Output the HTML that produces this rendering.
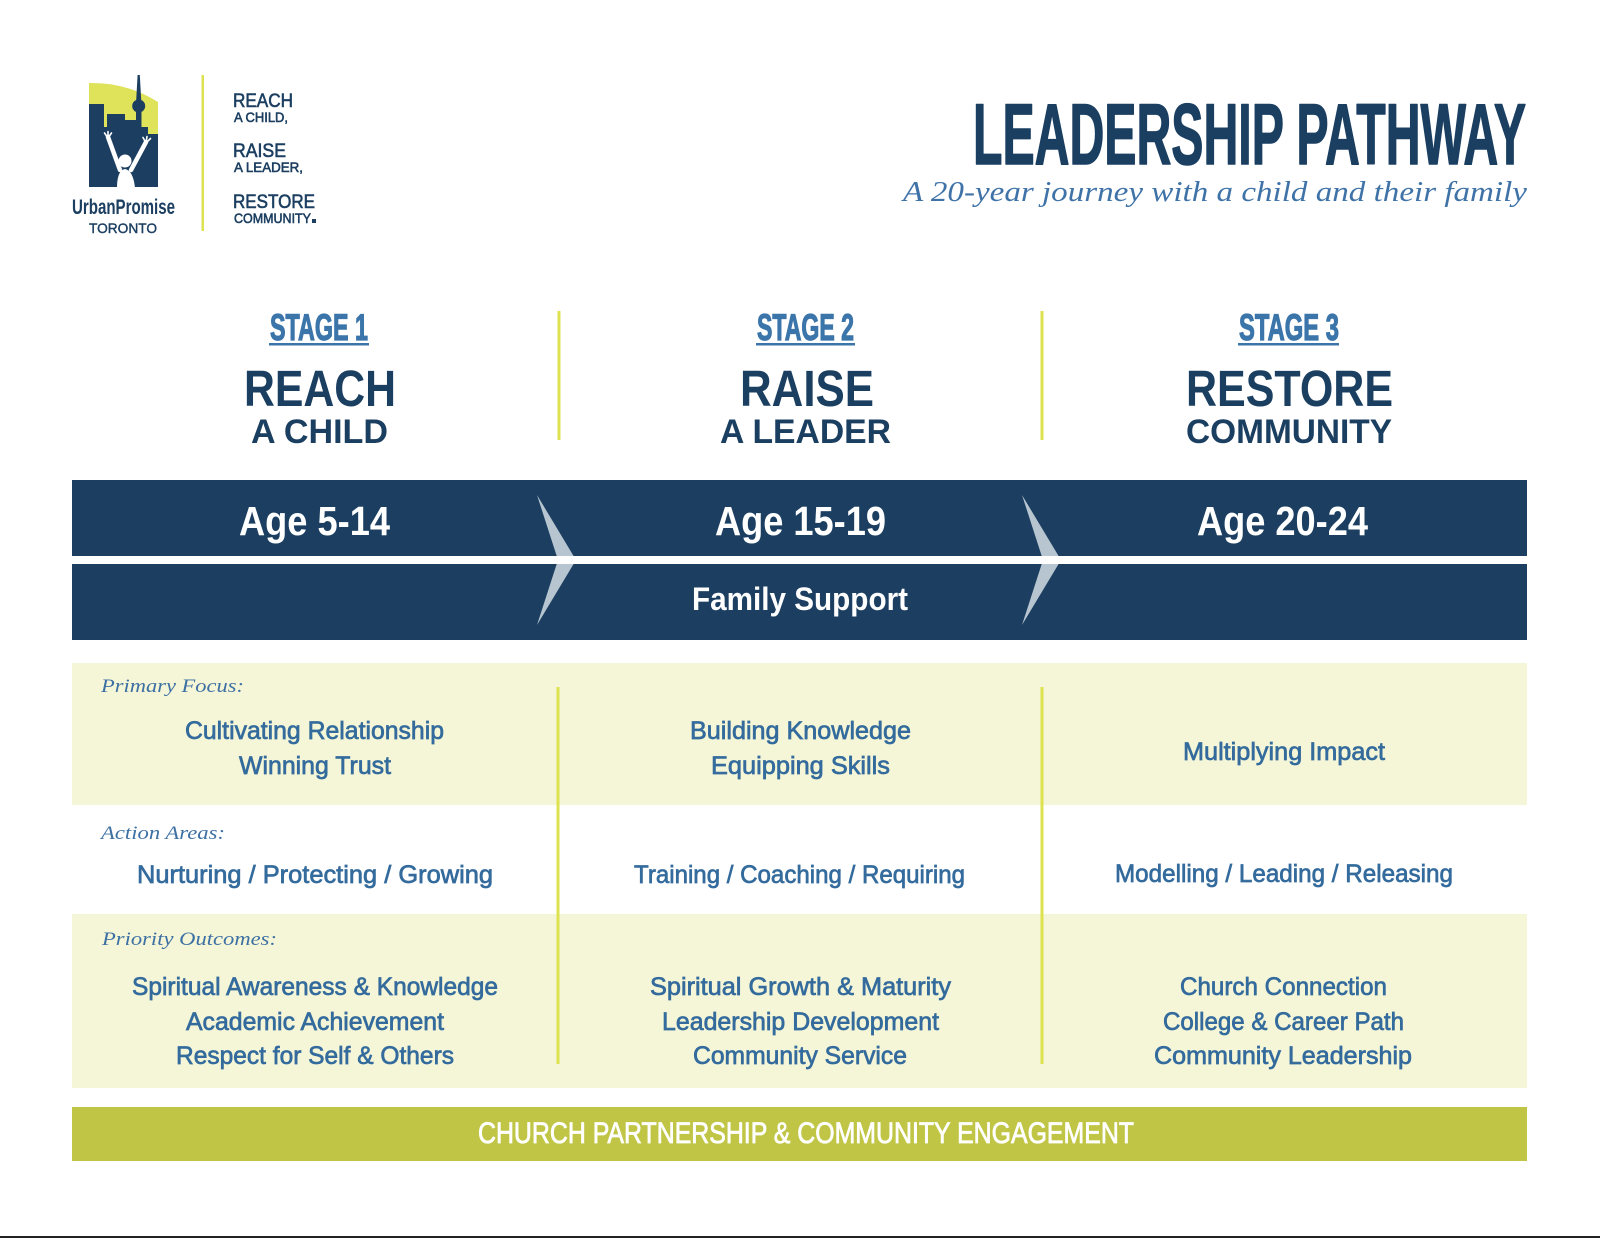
<!DOCTYPE html>
<html>
<head>
<meta charset="utf-8">
<style>
  html,body{margin:0;padding:0;background:#fff;}
  svg{display:block;}
  .sans{font-family:"Liberation Sans",Arial,sans-serif;}
  .serif{font-family:"Liberation Serif","Times New Roman",serif;}
</style>
</head>
<body>
<svg width="1600" height="1238" viewBox="0 0 1600 1238" xmlns="http://www.w3.org/2000/svg">
  <rect x="0" y="0" width="1600" height="1238" fill="#ffffff"/>

  <!-- ===== LOGO ===== -->
  <path d="M89,83 Q126,82 158,102 L158,187 L89,187 Z" fill="#dfe35a"/>
  <g fill="#1c3f61">
    <rect x="89" y="104" width="15" height="83"/>
    <rect x="103" y="127" width="5" height="60"/>
    <rect x="107" y="114" width="18" height="73"/>
    <rect x="124" y="120" width="13" height="67"/>
    <rect x="136" y="108" width="5.5" height="79"/>
    <circle cx="138.7" cy="106" r="6.5"/>
    <path d="M137.6,75 L139.8,75 L141.2,100 L136.2,100 Z"/>
    <rect x="141" y="127" width="7" height="60"/>
    <rect x="147" y="134" width="11" height="53"/>
  </g>
  <g fill="#ffffff" stroke="#ffffff">
    <circle cx="125" cy="161" r="6.5" stroke="none"/>
    <path d="M117,188 C117,178 119,170 125,169 C131,170 134,178 135,188 Z" stroke="none"/>
    <line x1="108" y1="137" x2="120" y2="170" stroke-width="4.5" stroke-linecap="round"/>
    <line x1="146" y1="142" x2="131" y2="170" stroke-width="4.5" stroke-linecap="round"/>
    <line x1="108" y1="138" x2="104.5" y2="133" stroke-width="1.6" stroke-linecap="round"/>
    <line x1="108" y1="138" x2="108" y2="131.5" stroke-width="1.6" stroke-linecap="round"/>
    <line x1="108" y1="138" x2="111.5" y2="133" stroke-width="1.6" stroke-linecap="round"/>
    <line x1="146" y1="143" x2="143" y2="137.5" stroke-width="1.6" stroke-linecap="round"/>
    <line x1="146" y1="143" x2="147" y2="136.5" stroke-width="1.6" stroke-linecap="round"/>
    <line x1="146" y1="143" x2="150.5" y2="138.5" stroke-width="1.6" stroke-linecap="round"/>
  </g>
  <text class="sans" x="72" y="214" font-size="21" font-weight="bold" fill="#1c3f61" textLength="103" lengthAdjust="spacingAndGlyphs">UrbanPromise</text>
  <text class="sans" x="89" y="233" font-size="14" fill="#1c3f61" stroke="#1c3f61" stroke-width="0.4" textLength="68" lengthAdjust="spacingAndGlyphs">TORONTO</text>

  <rect x="201.5" y="75" width="2.5" height="156" fill="#dde34f"/>

  <g class="sans" fill="#1c3f61" stroke="#1c3f61" stroke-width="0.6">
    <text x="233" y="107" font-size="19" textLength="60" lengthAdjust="spacingAndGlyphs">REACH</text>
    <text x="234" y="122" font-size="14" textLength="54" lengthAdjust="spacingAndGlyphs">A CHILD,</text>
    <text x="233" y="157" font-size="19" textLength="53" lengthAdjust="spacingAndGlyphs">RAISE</text>
    <text x="234" y="172" font-size="14" textLength="69" lengthAdjust="spacingAndGlyphs">A LEADER,</text>
    <text x="233" y="208" font-size="19" textLength="82" lengthAdjust="spacingAndGlyphs">RESTORE</text>
    <text x="234" y="223" font-size="14" textLength="77" lengthAdjust="spacingAndGlyphs">COMMUNITY</text>
  </g>
  <rect x="312" y="219" width="4" height="4" fill="#1c3f61"/>

  <!-- ===== TITLE ===== -->
  <text class="sans" x="973" y="164" font-size="86" font-weight="bold" fill="#1b3f61" stroke="#1b3f61" stroke-width="1.5" stroke-linejoin="round" textLength="553" lengthAdjust="spacingAndGlyphs">LEADERSHIP PATHWAY</text>
  <text class="serif" x="903" y="201" font-size="29" font-style="italic" fill="#3f73a8" textLength="624" lengthAdjust="spacingAndGlyphs">A 20-year journey with a child and their family</text>

  <!-- ===== STAGE HEADERS ===== -->
  <g class="sans" font-weight="bold" fill="#3b75aa" stroke="#3b75aa" stroke-width="1.2">
    <text x="270" y="340" font-size="37" textLength="98" lengthAdjust="spacingAndGlyphs">STAGE 1</text>
    <text x="757" y="340" font-size="37" textLength="97" lengthAdjust="spacingAndGlyphs">STAGE 2</text>
    <text x="1239" y="340" font-size="37" textLength="100" lengthAdjust="spacingAndGlyphs">STAGE 3</text>
  </g>
  <g fill="#3b75aa">
    <rect x="269" y="343" width="100" height="2.5"/>
    <rect x="756" y="343" width="99" height="2.5"/>
    <rect x="1238" y="343" width="101" height="2.5"/>
  </g>

  <g class="sans" font-weight="bold" fill="#1b3f61">
    <text x="244" y="406" font-size="51" textLength="152" lengthAdjust="spacingAndGlyphs">REACH</text>
    <text x="251" y="443" font-size="34" textLength="137" lengthAdjust="spacingAndGlyphs">A CHILD</text>
    <text x="740" y="406" font-size="51" textLength="134" lengthAdjust="spacingAndGlyphs">RAISE</text>
    <text x="720" y="443" font-size="34" textLength="171" lengthAdjust="spacingAndGlyphs">A LEADER</text>
    <text x="1186" y="406" font-size="51" textLength="207" lengthAdjust="spacingAndGlyphs">RESTORE</text>
    <text x="1186" y="443" font-size="34" textLength="206" lengthAdjust="spacingAndGlyphs">COMMUNITY</text>
  </g>

  <rect x="557.5" y="311" width="3" height="129" fill="#dde34f"/>
  <rect x="1040.5" y="311" width="3" height="129" fill="#dde34f"/>

  <!-- ===== BANDS ===== -->
  <rect x="72" y="480" width="1455" height="76" fill="#1c3f61"/>
  <rect x="72" y="564" width="1455" height="76" fill="#1c3f61"/>
  <path d="M537,495 L576,560 L537,625 L558,560 Z" fill="#b7c5d0"/>
  <path d="M1022,495 L1061,560 L1022,625 L1043,560 Z" fill="#b7c5d0"/>
  <rect x="60" y="556" width="1480" height="8" fill="#ffffff"/>

  <g class="sans" font-weight="bold" fill="#ffffff">
    <text x="239" y="535" font-size="41" textLength="151" lengthAdjust="spacingAndGlyphs">Age 5-14</text>
    <text x="715" y="535" font-size="41" textLength="171" lengthAdjust="spacingAndGlyphs">Age 15-19</text>
    <text x="1197" y="535" font-size="41" textLength="171" lengthAdjust="spacingAndGlyphs">Age 20-24</text>
    <text x="692" y="610" font-size="32" textLength="216" lengthAdjust="spacingAndGlyphs">Family Support</text>
  </g>

  <!-- ===== LOWER SECTION ===== -->
  <rect x="72" y="663" width="1455" height="142" fill="#f5f6d7"/>
  <rect x="72" y="914" width="1455" height="174" fill="#f5f6d7"/>
  <rect x="556.5" y="687" width="3" height="377" fill="#dde34f"/>
  <rect x="1040.5" y="687" width="3" height="377" fill="#dde34f"/>

  <g class="serif" font-style="italic" fill="#3d70a3" font-size="19">
    <text x="101" y="692" textLength="143" lengthAdjust="spacingAndGlyphs">Primary Focus:</text>
    <text x="101" y="839" textLength="124" lengthAdjust="spacingAndGlyphs">Action Areas:</text>
    <text x="102" y="945" textLength="175" lengthAdjust="spacingAndGlyphs">Priority Outcomes:</text>
  </g>

  <g class="sans" fill="#346b9d" stroke="#346b9d" stroke-width="0.7" font-size="25">
    <!-- column 1 -->
    <text x="185" y="739" textLength="259" lengthAdjust="spacingAndGlyphs">Cultivating Relationship</text>
    <text x="239" y="774" textLength="152" lengthAdjust="spacingAndGlyphs">Winning Trust</text>
    <text x="137" y="883" textLength="356" lengthAdjust="spacingAndGlyphs">Nurturing / Protecting / Growing</text>
    <text x="132" y="995" textLength="366" lengthAdjust="spacingAndGlyphs">Spiritual Awareness &amp; Knowledge</text>
    <text x="186" y="1030" textLength="258" lengthAdjust="spacingAndGlyphs">Academic Achievement</text>
    <text x="176" y="1064" textLength="278" lengthAdjust="spacingAndGlyphs">Respect for Self &amp; Others</text>
    <!-- column 2 -->
    <text x="690" y="739" textLength="221" lengthAdjust="spacingAndGlyphs">Building Knowledge</text>
    <text x="711" y="774" textLength="179" lengthAdjust="spacingAndGlyphs">Equipping Skills</text>
    <text x="634" y="883" textLength="331" lengthAdjust="spacingAndGlyphs">Training / Coaching / Requiring</text>
    <text x="650" y="995" textLength="301" lengthAdjust="spacingAndGlyphs">Spiritual Growth &amp; Maturity</text>
    <text x="662" y="1030" textLength="277" lengthAdjust="spacingAndGlyphs">Leadership Development</text>
    <text x="693" y="1064" textLength="214" lengthAdjust="spacingAndGlyphs">Community Service</text>
    <!-- column 3 -->
    <text x="1183" y="760" textLength="202" lengthAdjust="spacingAndGlyphs">Multiplying Impact</text>
    <text x="1115" y="882" textLength="338" lengthAdjust="spacingAndGlyphs">Modelling / Leading / Releasing</text>
    <text x="1180" y="995" textLength="207" lengthAdjust="spacingAndGlyphs">Church Connection</text>
    <text x="1163" y="1030" textLength="241" lengthAdjust="spacingAndGlyphs">College &amp; Career Path</text>
    <text x="1154" y="1064" textLength="258" lengthAdjust="spacingAndGlyphs">Community Leadership</text>
  </g>

  <!-- ===== GREEN BAR ===== -->
  <rect x="72" y="1107" width="1455" height="54" fill="#c0c545"/>
  <text class="sans" x="478" y="1143" font-size="30" fill="#ffffff" stroke="#ffffff" stroke-width="0.8" textLength="656" lengthAdjust="spacingAndGlyphs">CHURCH PARTNERSHIP &amp; COMMUNITY ENGAGEMENT</text>

  <!-- bottom rule -->
  <rect x="0" y="1236" width="1600" height="2" fill="#222222"/>
</svg>
</body>
</html>
